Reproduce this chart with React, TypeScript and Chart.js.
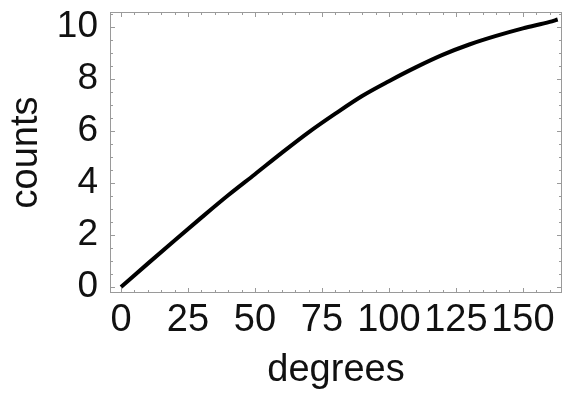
import React, { useEffect, useRef } from "react";
import { Chart, registerables } from "chart.js";

Chart.register(...registerables);

const degrees = [0, 10, 20, 30, 40, 50, 60, 70, 80, 90, 100, 110, 120, 130, 140, 150, 160, 163];
const counts = [0, 0.9, 1.79, 2.67, 3.53, 4.34, 5.16, 5.95, 6.67, 7.35, 7.92, 8.45, 8.93, 9.33, 9.66, 9.95, 10.2, 10.29];
const xTicks = [0, 25, 50, 75, 100, 125, 150];
const yTicks = [0, 2, 4, 6, 8, 10];
const xTitle = "degrees";
const yTitle = "counts";

const FONT = "'Liberation Sans', Arial, sans-serif";

const framePlugin = {
  id: "frame",
  afterDatasetsDraw(chart: any) {
    const { ctx, chartArea: a, scales } = chart;
    const xs = scales.x;
    const ys = scales.y;
    ctx.save();
    ctx.strokeStyle = "#9a9a9a";
    ctx.lineWidth = 1;
    ctx.strokeRect(a.left + 0.5, a.top + 0.5, a.right - a.left - 1, a.bottom - a.top - 1);
    ctx.beginPath();
    for (let v = 0; v <= 160; v += 5) {
      const px = Math.round(xs.getPixelForValue(v)) + 0.5;
      const len = v % 25 === 0 ? 5 : 3;
      ctx.moveTo(px, a.bottom);
      ctx.lineTo(px, a.bottom - len);
      ctx.moveTo(px, a.top);
      ctx.lineTo(px, a.top + len);
    }
    for (let v = 0; v <= 10.5; v += 0.5) {
      const py = Math.round(ys.getPixelForValue(v)) + 0.5;
      const len = Math.abs(v % 2) < 1e-6 ? 5 : 3;
      ctx.moveTo(a.left, py);
      ctx.lineTo(a.left + len, py);
      ctx.moveTo(a.right, py);
      ctx.lineTo(a.right - len, py);
    }
    ctx.stroke();
    ctx.restore();
  },
};

export default function App() {
  const ref = useRef<HTMLCanvasElement | null>(null);
  useEffect(() => {
    document.body.style.margin = "0";
    const canvas = ref.current;
    if (!canvas) return;
    const chart = new Chart(canvas, {
      type: "line",
      data: {
        datasets: [
          {
            data: degrees.map((d, i) => ({ x: d, y: counts[i] })),
            borderColor: "#000",
            borderWidth: 4,
            pointRadius: 0,
            cubicInterpolationMode: "monotone",
            fill: false,
          },
        ],
      },
      options: {
        animation: false,
        responsive: false,
        maintainAspectRatio: false,
        layout: { padding: { top: 12, right: 2, left: 0, bottom: 0 } },
        plugins: { legend: { display: false }, tooltip: { enabled: false } },
        scales: {
          x: {
            type: "linear",
            min: -4.1,
            max: 164.6,
            afterBuildTicks: (s: any) => {
              s.ticks = xTicks.map((v) => ({ value: v }));
            },
            afterFit: (s: any) => {
              s.height = 100;
              s.paddingLeft = 0;
              s.paddingRight = 0;
            },
            grid: { display: false, drawTicks: false },
            border: { display: false },
            ticks: {
              padding: 5,
              color: "#111",
              font: { family: FONT, size: 38 },
              maxRotation: 0,
              autoSkip: false,
            },
            title: {
              display: true,
              text: xTitle,
              color: "#111",
              font: { family: FONT, size: 38 },
              padding: { top: 0, bottom: 0 },
            },
          },
          y: {
            type: "linear",
            min: -0.23,
            max: 10.58,
            afterBuildTicks: (s: any) => {
              s.ticks = yTicks.map((v) => ({ value: v }));
            },
            afterFit: (s: any) => {
              s.width = 110;
              s.paddingTop = 0;
              s.paddingBottom = 0;
            },
            grid: { display: false, drawTicks: false },
            border: { display: false },
            ticks: {
              padding: 12,
              color: "#111",
              font: { family: FONT, size: 37 },
              autoSkip: false,
            },
            title: {
              display: true,
              text: yTitle,
              color: "#111",
              font: { family: FONT, size: 38 },
              padding: { top: 4, bottom: 0 },
            },
          },
        },
      },
      plugins: [framePlugin],
    } as any);
    return () => chart.destroy();
  }, []);
  return (
    <div style={{ position: "absolute", left: 0, top: 0, width: 564, height: 393, background: "#fff" }}>
      <canvas ref={ref} width={564} height={393} style={{ width: 564, height: 393, display: "block" }} />
    </div>
  );
}
